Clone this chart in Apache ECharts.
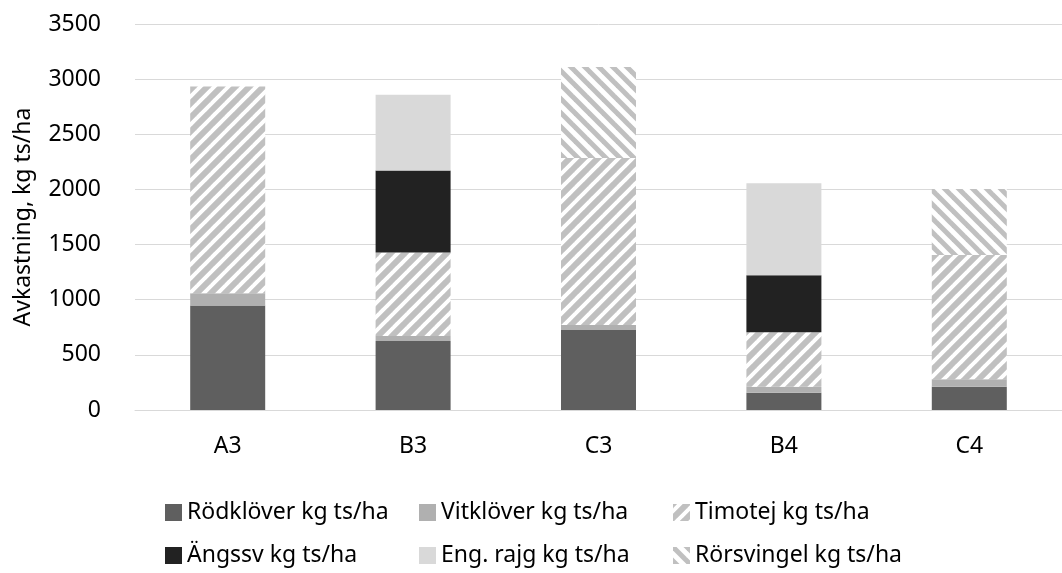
<!DOCTYPE html>
<html>
<head>
<meta charset="utf-8">
<script src="https://cdn.jsdelivr.net/npm/echarts@6/dist/echarts.min.js"></script>
<style>
html,body{margin:0;padding:0;background:#fff;}
#chart{width:1062px;height:573px;}
</style>
</head>
<body>
<div id="chart"></div>
<script>
const categories = ['A3', 'B3', 'C3', 'B4', 'C4'];
const rodklover = [947, 626, 726, 157, 211];
const vitklover = [112, 45, 45, 54, 68];
const timotej = [1875, 757, 1513, 494, 1127];
const angssv = [0, 744, 0, 517, 0];
const engRajg = [0, 686, 0, 835, 0];
const rorsvingel = [0, 0, 826, 0, 597];
const seriesNames = ['Rödklöver kg ts/ha', 'Vitklöver kg ts/ha', 'Timotej kg ts/ha', 'Ängssv kg ts/ha', 'Eng. rajg kg ts/ha', 'Rörsvingel kg ts/ha'];
const yTicks = [0, 500, 1000, 1500, 2000, 2500, 3000, 3500];
const yAxisTitle = 'Avkastning, kg ts/ha';

function makeStripe(dir, lw) {
  const s = 14;
  const c = document.createElement('canvas');
  c.width = s; c.height = s;
  const ctx = c.getContext('2d');
  ctx.fillStyle = '#ffffff';
  ctx.fillRect(0, 0, s, s);
  ctx.strokeStyle = '#c0c0c0';
  ctx.lineWidth = lw;
  for (let k = -1; k <= 1; k++) {
    ctx.beginPath();
    if (dir === 'up') {
      ctx.moveTo(k * s - 2, s + 2);
      ctx.lineTo(k * s + s + 2, -2);
    } else {
      ctx.moveTo(k * s - 2, -2);
      ctx.lineTo(k * s + s + 2, s + 2);
    }
    ctx.stroke();
  }
  return c;
}
const upPattern = { image: makeStripe('up', 6), repeat: 'repeat' };
const downPattern = { image: makeStripe('down', 5), repeat: 'repeat' };

const font = 'Noto Sans';
const chart = echarts.init(document.getElementById('chart'), null, { renderer: 'canvas' });
const dataSets = [rodklover, vitklover, timotej, angssv, engRajg, rorsvingel];
const colors = ['#5f5f5f', '#b0b0b0', upPattern, '#222222', '#d9d9d9', downPattern];

chart.setOption({
  animation: false,
  backgroundColor: '#ffffff',
  textStyle: { fontFamily: font },
  grid: { left: 135, top: 24, width: 940, bottom: 163, containLabel: false },
  legend: {
    data: seriesNames,
    left: 160,
    top: 494,
    width: 760,
    itemWidth: 17,
    itemHeight: 17,
    itemGap: 16,
    icon: 'rect',
    textStyle: { fontFamily: font, fontSize: 23, color: '#000', width: 216, lineHeight: 27, overflow: 'none' }
  },
  xAxis: {
    type: 'category',
    data: categories,
    axisLine: { lineStyle: { color: '#d9d9d9', width: 1 } },
    axisTick: { show: false },
    axisLabel: { fontFamily: font, fontSize: 23, color: '#000', margin: 25 }
  },
  yAxis: {
    type: 'value',
    min: 0,
    max: 3500,
    interval: 500,
    name: yAxisTitle,
    nameLocation: 'middle',
    nameGap: 100,
    nameTextStyle: { fontFamily: font, fontSize: 23, color: '#000' },
    axisLine: { show: false },
    axisTick: { show: false },
    splitLine: { lineStyle: { color: '#d9d9d9', width: 1 } },
    axisLabel: {
      fontFamily: font, fontSize: 23, color: '#000', margin: 34,
      formatter: v => yTicks.includes(v) ? String(v) : ''
    }
  },
  series: dataSets.map((d, i) => ({
    name: seriesNames[i],
    type: 'bar',
    stack: 'total',
    barWidth: 75,
    data: d,
    itemStyle: { color: colors[i] }
  }))
});
</script>
</body>
</html>
